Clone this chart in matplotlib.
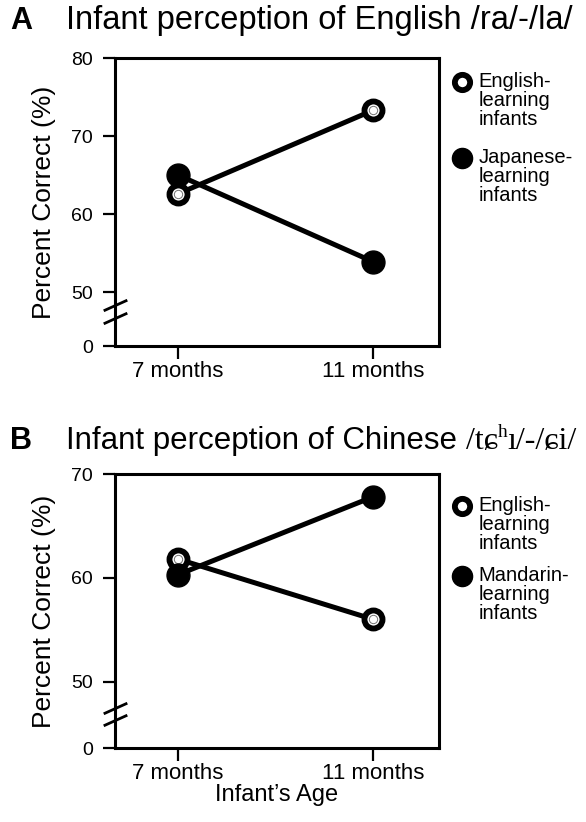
import matplotlib.pyplot as plt
import matplotlib.transforms as mtransforms

plt.rcParams['font.family'] = ['Liberation Sans', 'DejaVu Sans']

# Data (percent correct)
ages = ['7 months', '11 months']
age_pos = [0, 1]

english_a = [62.6, 73.3]   # English-learning infants, /ra/-/la/
japanese_a = [65.0, 53.9]  # Japanese-learning infants, /ra/-/la/

english_b = [61.8, 56.0]   # English-learning infants, Chinese contrast
mandarin_b = [60.3, 67.8]  # Mandarin-learning infants, Chinese contrast

ticks_a = [50, 60, 70, 80]
ticks_b = [50, 60, 70]

W, H = 586, 822
fig = plt.figure(figsize=(W / 100, H / 100), dpi=100)

LW = 3.6
MS = 16.5


def px_axes(left, top, right, bottom):
    return fig.add_axes([left / W, 1 - bottom / H, (right - left) / W, (bottom - top) / H])


def setup_axis(ax, zero_pos, top, ticks, breaks):
    ax.set_xlim(-0.323, 1.338)
    ax.set_ylim(zero_pos, top)
    for sp in ax.spines.values():
        sp.set_linewidth(2.2)
    ax.set_xticks(age_pos)
    ax.set_xticklabels(ages, fontsize=16)
    ax.set_yticks([zero_pos] + ticks)
    ax.set_yticklabels(['0'] + [str(t) for t in ticks], fontsize=14)
    ax.tick_params(axis='both', direction='out', length=9, width=1.6)
    ax.tick_params(axis='y', pad=7)
    ax.tick_params(axis='x', pad=1.5)
    ax.set_ylabel('Percent Correct (%)', fontsize=19, labelpad=11)
    # axis break marks on the y-axis
    trans = mtransforms.blended_transform_factory(ax.transAxes, ax.transData)
    ax.plot([0, 0], breaks, ls='none', marker=[(-1, -0.45), (1, 0.45)],
            markersize=17, mec='black', mew=2.0, transform=trans, clip_on=False, zorder=5)


def draw_group(ax, vals, filled):
    ax.plot(age_pos, vals, color='black', lw=LW, solid_capstyle='round', zorder=3)
    if filled:
        ax.plot(age_pos, vals, ls='none', marker='o', ms=MS, mfc='black', mec='black', zorder=4)
    else:
        ax.plot(age_pos, vals, ls='none', marker='o', ms=13, mfc='white', mec='black', mew=4.2, zorder=4)
        ax.plot(age_pos, vals, ls='none', marker='o', ms=6, mfc='none', mec='0.45', mew=0.7, zorder=4)


def legend_entry(ax, y, label, filled):
    kw = dict(ls='none', marker='o', transform=ax.transAxes, clip_on=False)
    if filled:
        ax.plot([1.071], [y], ms=14.5, mfc='black', mec='black', **kw)
    else:
        ax.plot([1.071], [y], ms=11, mfc='white', mec='black', mew=4.2, **kw)
    text_tr = mtransforms.offset_copy(ax.transAxes, fig=fig, y=7, units='points')
    ax.text(1.122, y, label, transform=text_tr, fontsize=14.5, va='top',
            linespacing=0.98, ha='left')


# Panel A
ax1 = px_axes(115, 58, 439, 346)
setup_axis(ax1, 43.1, 80, ticks_a, [48.3, 46.7])
draw_group(ax1, english_a, filled=False)
draw_group(ax1, japanese_a, filled=True)
legend_entry(ax1, 0.917, 'English-\nlearning\ninfants', filled=False)
legend_entry(ax1, 0.653, 'Japanese-\nlearning\ninfants', filled=True)

# Panel B
ax2 = px_axes(115, 474, 439, 748)
setup_axis(ax2, 43.6, 70, ticks_b, [47.5, 46.3])
draw_group(ax2, english_b, filled=False)
draw_group(ax2, mandarin_b, filled=True)
legend_entry(ax2, 0.883, 'English-\nlearning\ninfants', filled=False)
legend_entry(ax2, 0.628, 'Mandarin-\nlearning\ninfants', filled=True)
ax2.set_xlabel("Infant\u2019s Age", fontsize=17, labelpad=0)

# Panel letters and titles
fig.text(10 / W, 1 - 29 / H, 'A', fontsize=22, fontweight='bold', va='baseline')
fig.text(66 / W, 1 - 29 / H, 'Infant perception of English /ra/-/la/', fontsize=23.5, va='baseline')

fig.text(10 / W, 1 - 449 / H, 'B', fontsize=22, fontweight='bold', va='baseline')
t1 = fig.text(66 / W, 1 - 449 / H, 'Infant perception of Chinese ', fontsize=22.5, va='baseline')

renderer = fig.canvas.get_renderer()
x = t1.get_window_extent(renderer).x1
serif = ['Liberation Serif', 'DejaVu Serif']
t2 = fig.text(x / W, 1 - 449 / H, '/t\u0255', fontsize=23, va='baseline', family=serif)
x = t2.get_window_extent(renderer).x1
t3 = fig.text(x / W, 1 - 437 / H, 'h', fontsize=14, va='baseline', family=serif)
x = t3.get_window_extent(renderer).x1
fig.text(x / W, 1 - 449 / H, '\u0131/-/\u0255i/', fontsize=23, va='baseline', family=serif)

fig.savefig('out.png', dpi=100)
